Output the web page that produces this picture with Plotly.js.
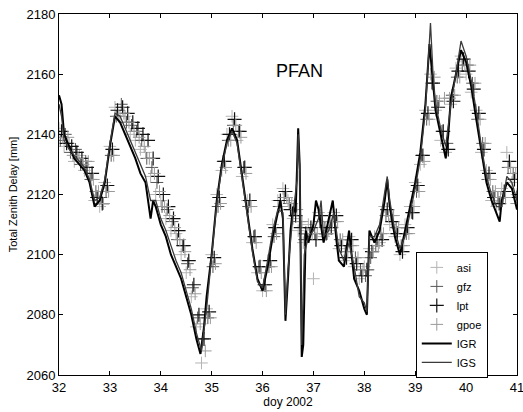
<!DOCTYPE html>
<html>
<head>
<meta charset="utf-8">
<script src="https://cdn.plot.ly/plotly-3.0.1.min.js"></script>
<style>html,body{margin:0;padding:0;background:#fff;}#chart{width:523px;height:412px;}</style>
</head>
<body>
<div id="chart"></div>
<script>
var doy = [32.0,32.1,32.2,32.3,32.4,32.5,32.6,32.7,32.8,32.9,
 33.0,33.1,33.2,33.3,33.4,33.5,33.6,33.7,33.8,33.9,
 34.0,34.1,34.2,34.3,34.4,34.5,34.6,34.7,34.8,34.9,
 35.0,35.1,35.2,35.3,35.4,35.5,35.6,35.7,35.8,35.9,
 36.0,36.1,36.2,36.3,36.4,36.5,36.6,36.7,36.8,36.9,
 37.0,37.1,37.2,37.3,37.4,37.5,37.6,37.7,37.8,37.9,
 38.0,38.1,38.2,38.3,38.4,38.5,38.6,38.7,38.8,38.9,
 39.0,39.1,39.2,39.3,39.4,39.5,39.6,39.7,39.8,39.9,
 40.0,40.1,40.2,40.3,40.4,40.5,40.6,40.7,40.8,40.9,
 41.0];

// each solution is sampled at its own epochs within each 0.1-day step
var asiShift = 0.0, gfzShift = 0.025, lptShift = 0.05, gpoeShift = 0.075;

var asi = [2142,2136,2137,2131,2133,2128,2127,2118,2116,2124,
 2136,2149,2146,2146,2140,2138,2135,2134,2126,2120,
 2118,2112,2108,2107,2100,2094,2086,2076,2064,2082,
 2100,2120,2128,2140,2146,2138,2126,2118,2104,2094,
 2088,2098,2110,2118,2122,2118,2112,2108,2104,2110,
 2092,2114,2106,2108,2114,2102,2098,2106,2096,2092,
 2096,2102,2106,2104,2116,2110,2106,2100,2110,2116,
 2124,2130,2148,2160,2148,2138,2134,2150,2162,2166,
 2160,2154,2148,2134,2128,2118,2116,2122,2134,2124,
 2120];

var gfz = [2138,2140,2134,2135,2130,2131,2125,2121,2119,2121,
 2133,2146,2150,2144,2143,2141,2138,2132,2129,2124,
 2116,2115,2111,2105,2103,2097,2089,2079,2072,2079,
 2096,2116,2131,2138,2143,2141,2129,2116,2106,2096,
 2090,2096,2106,2116,2119,2117,2115,2111,2105,2107,
 2107,2111,2109,2111,2111,2105,2101,2103,2099,2095,
 2093,2099,2103,2107,2113,2113,2109,2103,2107,2114,
 2121,2133,2145,2157,2151,2141,2137,2153,2159,2163,
 2163,2157,2145,2137,2125,2121,2119,2119,2129,2127,
 2117];

var lpt = [2141,2137,2136,2134,2132,2129,2127,2119,2117,2123,
 2135,2148,2149,2147,2144,2142,2140,2138,2132,2126,
 2120,2116,2112,2108,2103,2098,2090,2080,2072,2081,
 2099,2119,2131,2140,2145,2141,2129,2118,2106,2096,
 2090,2098,2109,2118,2121,2115,2113,2109,2107,2109,
 2105,2113,2107,2109,2113,2103,2099,2105,2097,2093,
 2095,2101,2105,2105,2115,2111,2107,2101,2109,2114,
 2123,2133,2147,2157,2149,2141,2135,2151,2161,2165,
 2161,2155,2147,2135,2127,2119,2117,2121,2131,2125,
 2119];

var gpoe = [2139,2139,2133,2132,2130,2131,2125,2121,2117,2121,
 2133,2146,2147,2144,2141,2139,2136,2132,2127,2121,
 2116,2113,2109,2105,2101,2095,2087,2077,2068,2079,
 2097,2117,2129,2138,2143,2139,2127,2116,2104,2094,
 2088,2096,2107,2116,2119,2117,2115,2111,2107,2107,
 2107,2111,2107,2111,2111,2105,2101,2103,2099,2095,
 2095,2101,2103,2107,2113,2113,2109,2103,2107,2116,
 2121,2131,2145,2159,2151,2152,2152,2153,2159,2163,
 2163,2157,2145,2137,2125,2121,2119,2119,2129,2127,
 2117];

var igrDoy = [32.0,32.05,32.1,32.2,32.3,32.4,32.5,32.6,32.7,32.8,32.9,
 33.0,33.1,33.2,33.3,33.4,33.5,33.6,33.7,33.8,33.85,33.9,
 34.0,34.1,34.2,34.3,34.4,34.5,34.6,34.7,34.78,34.85,34.9,
 35.0,35.1,35.2,35.3,35.4,35.5,35.6,35.7,35.8,35.9,
 36.0,36.1,36.2,36.3,36.35,36.4,36.45,36.5,36.55,36.6,36.65,36.68,36.7,36.73,36.77,36.8,36.85,36.9,
 37.0,37.05,37.1,37.2,37.3,37.38,37.45,37.5,37.6,37.7,37.75,37.8,37.9,
 38.0,38.05,38.1,38.2,38.3,38.4,38.45,38.5,38.6,38.7,38.8,38.9,
 39.0,39.1,39.2,39.28,39.32,39.4,39.5,39.6,39.65,39.7,39.8,39.9,
 40.0,40.1,40.2,40.3,40.4,40.5,40.6,40.66,40.7,40.8,40.9,41.0];
var igr = [2153,2150,2140,2136,2132,2130,2128,2124,2116,2118,2124,
 2136,2146,2144,2140,2136,2132,2127,2124,2112,2118,2116,
 2110,2106,2100,2096,2092,2086,2080,2072,2067,2076,2086,
 2100,2118,2130,2138,2142,2138,2126,2114,2102,2092,
 2088,2096,2106,2114,2118,2112,2078,2092,2108,2116,2114,2130,2142,2130,2066,2070,2108,2104,
 2110,2118,2115,2104,2112,2118,2105,2098,2096,2108,2100,2092,2088,
 2082,2080,2108,2104,2108,2118,2125,2116,2106,2100,2108,2116,
 2124,2134,2150,2170,2162,2148,2140,2132,2140,2152,2160,2168,
 2164,2156,2145,2134,2124,2118,2114,2111,2118,2124,2122,2115];

var igsDoy = [32.0,32.05,32.1,32.2,32.3,32.4,32.5,32.6,32.7,32.8,32.9,
 33.0,33.1,33.2,33.3,33.4,33.5,33.6,33.7,33.8,33.9,
 34.0,34.1,34.2,34.3,34.4,34.5,34.6,34.7,34.8,34.9,
 35.0,35.1,35.2,35.3,35.4,35.5,35.6,35.7,35.8,35.9,
 36.0,36.1,36.2,36.3,36.4,36.45,36.5,36.6,36.68,36.7,36.73,36.77,36.82,36.9,
 37.0,37.1,37.15,37.2,37.3,37.4,37.5,37.6,37.7,37.8,37.9,
 38.0,38.05,38.1,38.2,38.3,38.4,38.45,38.5,38.6,38.7,38.8,38.9,
 39.0,39.1,39.2,39.3,39.35,39.4,39.5,39.6,39.7,39.8,39.9,
 40.0,40.1,40.2,40.3,40.4,40.5,40.6,40.7,40.8,40.9,41.0];
var igs = [2150,2146,2138,2135,2133,2131,2129,2125,2118,2119,2125,
 2137,2147,2146,2142,2138,2134,2130,2126,2118,2118,
 2112,2108,2103,2098,2094,2088,2082,2074,2068,2082,
 2099,2117,2129,2137,2141,2137,2125,2113,2101,2091,
 2089,2098,2108,2115,2114,2080,2095,2114,2125,2140,2128,2070,2100,2106,
 2108,2112,2118,2106,2108,2114,2102,2098,2104,2096,2086,
 2084,2081,2106,2106,2110,2120,2126,2118,2108,2102,2106,2114,
 2122,2132,2148,2177,2160,2150,2142,2136,2150,2160,2171,
 2166,2158,2148,2136,2126,2120,2116,2116,2126,2124,2118];

var dTicks = [32,33,34,35,36,37,38,39,40,41];
var zTicks = [2060,2080,2100,2120,2140,2160,2180];

function mk(name, y, shift, color, size, w) {
  return {x: doy.map(function(d){ return Math.min(41, d + shift); }), y: y, name: name, type: 'scatter', mode: 'markers',
    marker: {symbol: 'cross-thin-open', size: size, color: color, line: {width: w, color: color}}};
}

var traces = [
  mk('asi', asi, asiShift, '#b4b4b4', 9, 1),
  mk('gfz', gfz, gfzShift, '#555555', 9, 1),
  mk('lpt', lpt, lptShift, '#111111', 10, 1.2),
  mk('gpoe', gpoe, gpoeShift, '#9a9a9a', 9, 1),
  {x: igrDoy, y: igr, name: 'IGR', type: 'scatter', mode: 'lines', line: {color: '#000000', width: 2}},
  {x: igsDoy, y: igs, name: 'IGS', type: 'scatter', mode: 'lines', line: {color: '#3a3a3a', width: 1.3}}
];

var fontFam = 'Liberation Sans, Arial, sans-serif';
var layout = {
  width: 523, height: 412,
  margin: {l: 59, r: 6, t: 14, b: 37},
  paper_bgcolor: '#ffffff', plot_bgcolor: '#ffffff',
  font: {family: fontFam, color: '#000000', size: 13},
  showlegend: true,
  xaxis: {range: [32, 41.0001], tickvals: dTicks, ticktext: dTicks.map(String),
    ticks: 'inside', ticklen: 4, tickcolor: '#000', showline: true, linecolor: '#000', linewidth: 1,
    mirror: 'ticks', showgrid: false, zeroline: false, ticklabeloverflow: 'allow', automargin: false,
    tickfont: {size: 13, family: fontFam},
    title: {text: 'doy 2002', font: {size: 12, family: fontFam}, standoff: 2}},
  yaxis: {range: [2060, 2180], tickvals: zTicks, ticktext: zTicks.map(String),
    ticks: 'inside', ticklen: 4, tickcolor: '#000', showline: true, linecolor: '#000', linewidth: 1,
    mirror: 'ticks', showgrid: false, zeroline: false,
    tickfont: {size: 13, family: fontFam},
    title: {text: 'Total Zenith Delay [mm]', font: {size: 11, family: fontFam}, standoff: 6}},
  legend: {x: 0.779, y: 0.341, xanchor: 'left', yanchor: 'top',
    bordercolor: '#000', borderwidth: 1, bgcolor: '#ffffff',
    font: {size: 11, family: fontFam}, tracegroupgap: 0, itemwidth: 30},
  annotations: [{x: 36.72, y: 2161, xref: 'x', yref: 'y', text: 'PFAN', showarrow: false,
    font: {size: 18, family: fontFam, color: '#000'}}]
};

Plotly.newPlot('chart', traces, layout, {displayModeBar: false, staticPlot: true});
</script>
</body>
</html>
